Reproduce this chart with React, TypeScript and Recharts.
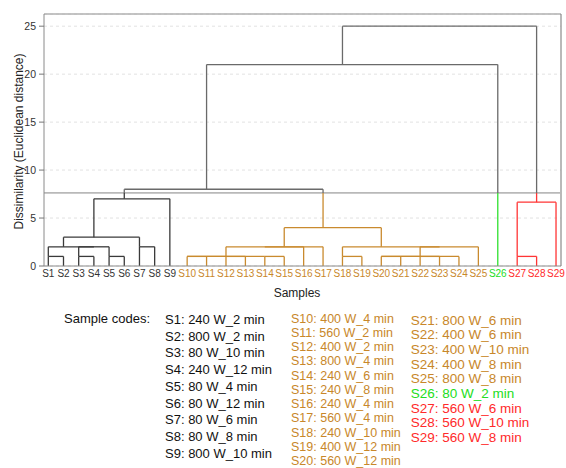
import React from "react";
import {
  ComposedChart,
  XAxis,
  YAxis,
  CartesianGrid,
  ReferenceLine,
} from "recharts";

// leaves in dendrogram order
const SAMPLES = [
  "S1", "S2", "S3", "S4", "S5", "S6", "S7", "S8", "S9",
  "S10", "S11", "S12", "S13", "S14", "S15", "S16", "S17", "S18", "S19",
  "S20", "S21", "S22", "S23", "S24", "S25", "S26", "S27", "S28", "S29",
];

// cluster of each leaf after cutting at the truncation line
const CLUSTERS = [
  "c1", "c1", "c1", "c1", "c1", "c1", "c1", "c1", "c1",
  "c2", "c2", "c2", "c2", "c2", "c2", "c2", "c2", "c2", "c2",
  "c2", "c2", "c2", "c2", "c2", "c2", "c3", "c4", "c4", "c4",
];

const CODES = [
  "240 W_2 min", "800 W_2 min", "80 W_10 min", "240 W_12 min", "80 W_4 min",
  "80 W_12 min", "80 W_6 min", "80 W_8 min", "800 W_10 min",
  "400 W_4 min", "560 W_2 min", "400 W_2 min", "800 W_4 min", "240 W_6 min",
  "240 W_8 min", "240 W_4 min", "560 W_4 min", "240 W_10 min", "400 W_12 min",
  "560 W_12 min",
  "800 W_6 min", "400 W_6 min", "400 W_10 min", "400 W_8 min", "800 W_8 min",
  "80 W_2 min", "560 W_6 min", "560 W_10 min", "560 W_8 min",
];

// agglomeration steps: [child, child, dissimilarity]; "#k" = result of step k
const MERGES: [string, string, number][] = [
  ["S1", "S2", 1],
  ["S3", "S4", 1],
  ["S5", "S6", 1],
  ["#1", "#2", 2],
  ["#0", "#3", 2],
  ["S7", "S8", 2],
  ["#4", "#5", 3],
  ["#6", "S9", 7],
  ["S10", "S11", 1],
  ["S12", "S13", 1],
  ["S14", "S15", 1],
  ["#8", "#9", 1],
  ["#11", "#10", 1],
  ["#12", "S16", 2],
  ["#13", "S17", 2],
  ["S18", "S19", 1],
  ["S20", "S21", 1],
  ["S22", "S23", 1],
  ["#16", "#17", 1],
  ["#18", "S24", 1],
  ["#19", "S25", 2],
  ["#15", "#20", 2],
  ["#14", "#21", 4],
  ["#7", "#22", 8],
  ["S27", "S28", 1],
  ["#24", "S29", 6.65],
  ["#23", "S26", 21],
  ["#26", "#25", 25],
];

const CUTOFF = 7.62;
const Y_TICKS = [0, 5, 10, 15, 20, 25];
const Y_MAX = 26.27;

const COLORS: Record<string, string> = {
  c1: "#3a3a3a",
  c2: "#c98a2e",
  c3: "#2fe02f",
  c4: "#ff3535",
};
const LABEL_COLORS: Record<string, string> = {
  c1: "#333333",
  c2: "#c8872a",
  c3: "#22dd22",
  c4: "#ff2a2a",
};
const UPPER = "#6a6a6a";

// leaf spacing follows label length
const leafX: number[] = [];
SAMPLES.forEach((s, i) => {
  if (i === 0) leafX.push(0);
  else leafX.push(leafX[i - 1] + (SAMPLES[i - 1].length + s.length) / 2 + 1.6);
});
const X_MIN = -1.02;
const X_MAX = leafX[leafX.length - 1] + 1.18;

type Node = { idx: number; h: number; cluster: string | null };
type Seg = { x1: number; y1: number; x2: number; y2: number; color: string };

function buildSegments(): Seg[] {
  const nodes: Record<string, Node> = {};
  SAMPLES.forEach((s, i) => (nodes[s] = { idx: i, h: 0, cluster: CLUSTERS[i] }));
  const segs: Seg[] = [];
  const vertical = (c: Node, top: number) => {
    const x = leafX[c.idx];
    if (c.cluster && c.h < CUTOFF) {
      const t = Math.min(top, CUTOFF);
      if (t > c.h) segs.push({ x1: x, y1: c.h, x2: x, y2: t, color: COLORS[c.cluster] });
      if (top > CUTOFF) segs.push({ x1: x, y1: CUTOFF, x2: x, y2: top, color: UPPER });
    } else if (top > c.h) {
      segs.push({ x1: x, y1: c.h, x2: x, y2: top, color: UPPER });
    }
  };
  MERGES.forEach(([a, b, h], k) => {
    const na = nodes[a];
    const nb = nodes[b];
    vertical(na, h);
    vertical(nb, h);
    const cluster = na.cluster && na.cluster === nb.cluster ? na.cluster : null;
    segs.push({
      x1: leafX[na.idx],
      y1: h,
      x2: leafX[nb.idx],
      y2: h,
      color: cluster && h < CUTOFF ? COLORS[cluster] : UPPER,
    });
    nodes["#" + k] = { idx: Math.floor((na.idx + nb.idx) / 2), h, cluster };
  });
  return segs;
}

const segments = buildSegments();
const points = leafX.map((x) => ({ x, y: 0 }));

const LeafTick = (props: any) => {
  const { x, y, payload } = props;
  const i = payload.index;
  return (
    <text
      x={x}
      y={y}
      dy="0.71em"
      textAnchor="middle"
      fontSize={10}
      fill={LABEL_COLORS[CLUSTERS[i]]}
    >
      {SAMPLES[i]}
    </text>
  );
};

const FONT = "'Liberation Sans', Arial, sans-serif";

function Legend() {
  const col = (from: number, to: number, x: number, y0: number, step: number, size: number) =>
    SAMPLES.slice(from, to).map((s, j) => (
      <text
        key={s}
        x={x}
        y={y0 + j * step}
        fontSize={size}
        dominantBaseline="central"
        fill={CLUSTERS[from + j] === "c1" ? "#111" : LABEL_COLORS[CLUSTERS[from + j]]}
      >
        {s}: {CODES[from + j]}
      </text>
    ));
  return (
    <svg
      width={566}
      height={468}
      style={{ position: "absolute", left: 0, top: 0, pointerEvents: "none", fontFamily: FONT }}
    >
      <text
        transform="translate(19,141.5) rotate(-90)"
        textAnchor="middle"
        dominantBaseline="central"
        fontSize={12}
        fill="#222"
      >
        Dissimilarity (Euclidean distance)
      </text>
      <text x={297} y={293} textAnchor="middle" dominantBaseline="central" fontSize={12} fill="#222">
        Samples
      </text>
      <text x={64} y={318} dominantBaseline="central" fontSize={13} fill="#111">
        Sample codes:
      </text>
      {col(0, 9, 165, 319.3, 16.75, 13)}
      {col(9, 20, 291, 318.5, 14.25, 12.5)}
      {col(20, 29, 410.7, 320, 14.7, 13.5)}
    </svg>
  );
}

export default function App() {
  return (
    <div
      style={{
        position: "absolute",
        left: 0,
        top: 0,
        width: 566,
        height: 468,
        background: "#fff",
        fontFamily: FONT,
      }}
    >
      <ComposedChart
        width={566}
        height={297}
        data={points}
        margin={{ top: 14, right: 5, bottom: 0, left: 14 }}
      >
        <CartesianGrid vertical={false} strokeDasharray="3 3" stroke="#e2e2e2" />
        <XAxis
          type="number"
          dataKey="x"
          domain={[X_MIN, X_MAX]}
          ticks={leafX}
          interval={0}
          allowDataOverflow
          tick={<LeafTick />}
          tickLine={false}
          tickSize={0}
          tickMargin={4}
          height={31}
          axisLine={{ stroke: "#8a8a8a" }}
        />
        <YAxis
          type="number"
          domain={[0, Y_MAX]}
          ticks={Y_TICKS}
          allowDataOverflow
          width={30}
          tickSize={5}
          tickMargin={3}
          tick={{ fontSize: 10.5, fill: "#333" }}
          tickLine={{ stroke: "#777" }}
          axisLine={{ stroke: "#8a8a8a" }}
        />
        <ReferenceLine y={Y_MAX} stroke="#b0b0b0" strokeWidth={1.5} />
        <ReferenceLine x={X_MAX} stroke="#8a8a8a" strokeWidth={1.2} />
        <ReferenceLine y={CUTOFF} stroke="#b9b9b9" strokeWidth={1.6} />
        {segments.map((s, i) => (
          <ReferenceLine
            key={i}
            segment={[
              { x: s.x1, y: s.y1 },
              { x: s.x2, y: s.y2 },
            ]}
            stroke={s.color}
            strokeWidth={1.3}
            ifOverflow="visible"
          />
        ))}
      </ComposedChart>
      <Legend />
    </div>
  );
}
